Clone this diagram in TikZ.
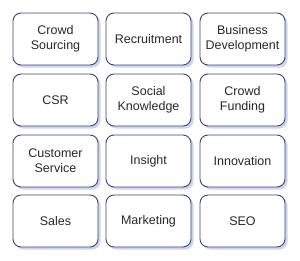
\documentclass[tikz,border=0pt]{standalone}
\usepackage{fontspec}
\setmainfont{Liberation Sans}
\usetikzlibrary{shadows}
\definecolor{edge}{RGB}{64,64,120}
\definecolor{shade}{RGB}{200,215,240}
\definecolor{txt}{RGB}{40,40,40}
\begin{document}
\begin{tikzpicture}[x=1pt,y=-1pt,
  cell/.style={draw=edge, line width=0.9pt, fill=white, rounded corners=8pt,
    minimum width=85pt, minimum height=52pt, inner sep=0pt, align=center,
    text=txt, font=\fontsize{12.5}{15}\selectfont,
    drop shadow={shadow xshift=2.5pt, shadow yshift=-2.5pt, fill=shade, opacity=1}}]
\useasboundingbox (0,0) rectangle (300,260);
\node[cell] (a1) at (55.5,39) {Crowd\\Sourcing};
\node[cell] (a2) at (148.5,39) {Recruitment};
\node[cell] (a3) at (242.5,39) {Business\\Development};
\node[cell] (b1) at (55.5,100) {CSR};
\node[cell] (b2) at (148.5,100) {Social\\Knowledge};
\node[cell] (b3) at (242.5,100) {Crowd\\Funding};
\node[cell] (c1) at (55.5,161) {Customer\\Service};
\node[cell] (c2) at (148.5,161) {Insight};
\node[cell] (c3) at (242.5,161) {Innovation};
\node[cell] (d1) at (55.5,221) {Sales};
\node[cell] (d2) at (148.5,221) {Marketing};
\node[cell] (d3) at (242.5,221) {SEO};
\end{tikzpicture}
\end{document}
